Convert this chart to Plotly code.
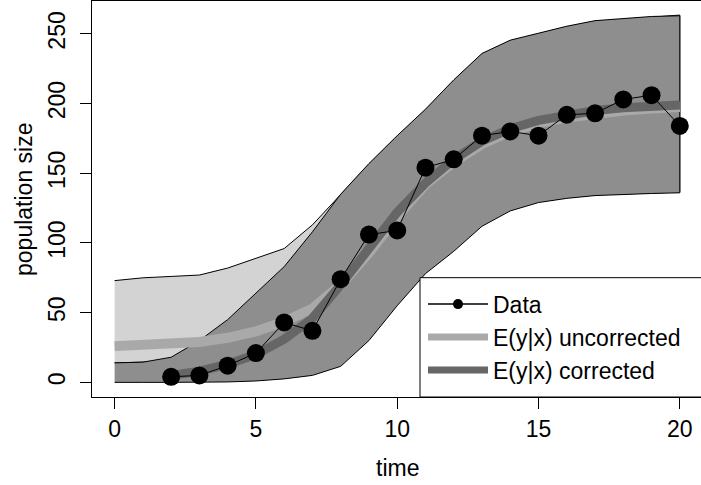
import plotly.graph_objects as go

# ---- data ----
time_data = list(range(2, 21))
pop_data = [4, 5, 12, 21, 43, 37, 74, 106, 109, 154, 160, 177, 180, 177, 192, 193, 203, 206, 184]

time_grid = list(range(0, 21))
mean_uncorrected = [26, 26.5, 27.5, 29, 32, 36.5, 43.5, 53, 70, 93, 119, 142, 158, 171, 180,
                    186, 190, 193, 195, 196.5, 197.5]
upper_uncorrected = [73, 75, 76, 77, 82, 89, 96, 113, 134.5, 156.5, 176.5, 195.5, 216.5, 235.5,
                     245, 250, 255, 259, 260.5, 262, 263.5]
lower_uncorrected = [14, 14.5, 15.5, 17, 19, 22, 26, 32, 42, 56, 72, 88, 103, 115, 124,
                     129.5, 132.5, 134.5, 135.5, 136, 136.5]

time_corrected = list(range(2, 21))
mean_corrected = [5, 8, 13, 20, 31, 46, 70, 97, 122, 143, 160, 173, 182, 188, 192, 195, 197, 198, 199]
upper_corrected = [14, 14.5, 18, 30, 45, 64, 83, 108, 135, 157, 177, 196, 217, 236, 245.5,
                   250.5, 255.5, 259.5, 261, 262.5, 263]
lower_corrected = [0, 0, 0, 0, 0.3, 1, 2.5, 5, 11.5, 30, 55, 78, 94, 112, 123, 129, 132,
                   134, 135, 135.5, 136]

x_ticks = [0, 5, 10, 15, 20]
y_ticks = [0, 50, 100, 150, 200, 250]

FONT = "Liberation Sans, Arial, Helvetica, sans-serif"
LIGHT_LINE = "#a9a9a9"
DARK_LINE = "#666666"

fig = go.Figure()

# light band (uncorrected)
fig.add_trace(go.Scatter(
    x=time_grid + time_grid[::-1],
    y=upper_uncorrected + lower_uncorrected[::-1],
    fill="toself", fillcolor="#d3d3d3",
    line=dict(color="black", width=1),
    mode="lines", showlegend=False, hoverinfo="skip"))

# dark band (corrected)
fig.add_trace(go.Scatter(
    x=time_grid + time_grid[::-1],
    y=upper_corrected + lower_corrected[::-1],
    fill="toself", fillcolor="#8e8e8e",
    line=dict(color="black", width=1),
    mode="lines", showlegend=False, hoverinfo="skip"))

# mean lines
fig.add_trace(go.Scatter(
    x=time_grid, y=mean_uncorrected, mode="lines",
    line=dict(color=LIGHT_LINE, width=10),
    name="E(y|x) uncorrected", showlegend=False))
fig.add_trace(go.Scatter(
    x=time_corrected, y=mean_corrected, mode="lines",
    line=dict(color=DARK_LINE, width=9),
    name="E(y|x) corrected", showlegend=False))

# data
fig.add_trace(go.Scatter(
    x=time_data, y=pop_data, mode="lines+markers",
    line=dict(color="black", width=1),
    marker=dict(color="black", size=18),
    name="Data", showlegend=False))

# legend entries (R-style legend samples)
fig.add_trace(go.Scatter(x=[None], y=[None], mode="lines+markers",
                         line=dict(color="black", width=1.5),
                         marker=dict(color="black", size=10),
                         name="Data", legendrank=1))
fig.add_trace(go.Scatter(x=[None], y=[None], mode="lines",
                         line=dict(color=LIGHT_LINE, width=7),
                         name="E(y|x) uncorrected", legendrank=2))
fig.add_trace(go.Scatter(x=[None], y=[None], mode="lines",
                         line=dict(color=DARK_LINE, width=7),
                         name="E(y|x) corrected", legendrank=3))

# legend box (R style, bottom-right)
fig.add_shape(type="rect", xref="paper", yref="paper",
              x0=0.5386, x1=1.02, y0=0, y1=0.3013,
              fillcolor="white", line=dict(color="black", width=1), layer="above")

fig.add_annotation(text="time", xref="paper", yref="paper", x=0.502, y=-0.179,
                   xanchor="center", yanchor="middle", showarrow=False,
                   font=dict(family=FONT, size=23, color="black"))
fig.add_annotation(text="population size", xref="paper", yref="paper", x=-0.1117, y=0.5,
                   xanchor="center", yanchor="middle", showarrow=False, textangle=-90,
                   font=dict(family=FONT, size=23, color="black"))

fig.update_layout(
    width=701, height=485,
    margin=dict(l=92, r=0, t=1, b=88),
    paper_bgcolor="white", plot_bgcolor="white",
    font=dict(family=FONT, size=23, color="black"),
    showlegend=True,
    legend=dict(x=0.5435, xanchor="left", y=0.2887, yanchor="top",
                bgcolor="rgba(0,0,0,0)", borderwidth=0,
                font=dict(family=FONT, size=23, color="black"),
                itemwidth=60, tracegroupgap=0),
    xaxis=dict(range=[-0.8, 20.75], tickvals=x_ticks, ticktext=[str(v) for v in x_ticks],
               showgrid=False, zeroline=False, automargin=False,
               showline=True, mirror=True, linecolor="black", linewidth=1,
               ticks="outside", ticklen=11, tickcolor="black", tickwidth=1),
    yaxis=dict(range=[-10.5, 273.6], tickvals=y_ticks, ticktext=[str(v) for v in y_ticks],
               tickangle=-90, ticklabelstandoff=6,
               showgrid=False, zeroline=False, automargin=False,
               showline=True, mirror=True, linecolor="black", linewidth=1,
               ticks="outside", ticklen=11, tickcolor="black", tickwidth=1),
)

fig.write_html(
    "out.html",
    config={"displayModeBar": False},
    post_script="document.body.style.margin='0';document.body.style.overflow='hidden';",
)
